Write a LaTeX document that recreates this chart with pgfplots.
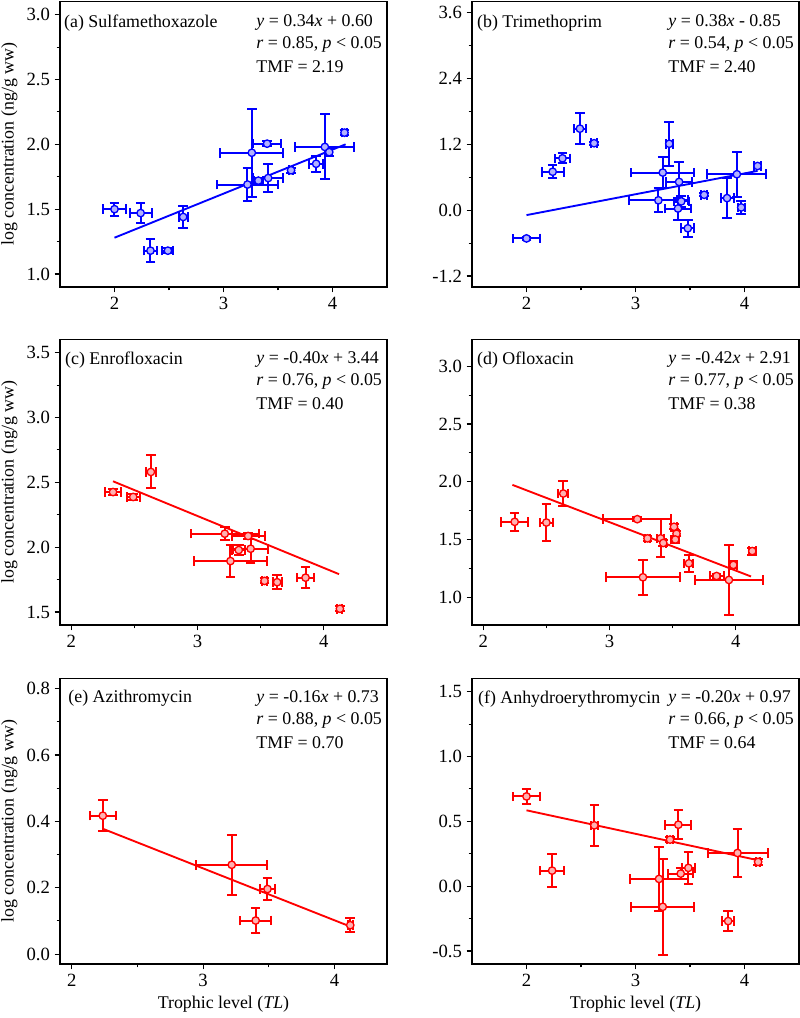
\documentclass[border=0pt]{standalone}
\usepackage{fontspec}
\setmainfont{Liberation Serif}
\usepackage{pgfplots}
\usepackage{pgfplotstable}
\pgfplotsset{compat=1.18}

\pgfplotstableread{
x y ex ey
2.00 1.50 0.11 0.05
2.24 1.47 0.10 0.08
2.33 1.18 0.06 0.09
2.49 1.18 0.05 0.02
2.63 1.44 0.04 0.085
3.22 1.69 0.28 0.13
3.26 1.935 0.29 0.34
3.32 1.72 0.04 0.02
3.40 2.005 0.13 0.02
3.41 1.74 0.14 0.11
3.62 1.80 0.02 0.02
3.85 1.85 0.065 0.06
3.93 1.98 0.27 0.25
3.97 1.94 0.03 0.03
4.11 2.09 0.02 0.02
}\dataA

\pgfplotstableread{
x y ex ey
2.00 -0.515 0.12 0.02
2.24 0.70 0.10 0.12
2.33 0.945 0.065 0.09
2.49 1.485 0.055 0.28
2.62 1.22 0.03 0.03
3.21 0.18 0.27 0.22
3.25 0.685 0.29 0.29
3.31 1.21 0.03 0.40
3.39 0.03 0.12 0.20
3.40 0.515 0.12 0.37
3.42 0.16 0.07 0.10
3.48 -0.33 0.06 0.15
3.63 0.28 0.03 0.03
3.84 0.22 0.06 0.36
3.93 0.655 0.27 0.41
3.97 0.05 0.03 0.12
4.12 0.805 0.03 0.03
}\dataB

\pgfplotstableread{
x y ex ey
2.33 2.425 0.065 0.02
2.49 2.387 0.05 0.02
2.63 2.58 0.04 0.127
3.215 2.104 0.27 0.05
3.26 1.893 0.29 0.12
3.326 1.978 0.05 0.04
3.40 2.086 0.13 0.02
3.42 1.988 0.14 0.11
3.53 1.74 0.02 0.02
3.63 1.73 0.035 0.055
3.855 1.765 0.065 0.08
4.127 1.525 0.02 0.02
}\dataC

\pgfplotstableread{
x y ex ey
2.248 1.653 0.105 0.078
2.499 1.647 0.05 0.16
2.633 1.898 0.04 0.11
3.219 1.676 0.27 0.02
3.264 1.173 0.29 0.15
3.30 1.51 0.02 0.02
3.404 1.51 0.03 0.165
3.425 1.47 0.02 0.03
3.51 1.61 0.02 0.02
3.53 1.55 0.02 0.02
3.52 1.50 0.03 0.03
3.628 1.294 0.035 0.075
3.847 1.184 0.055 0.02
3.945 1.15 0.27 0.30
3.98 1.28 0.03 0.03
4.13 1.40 0.03 0.03
}\dataD

\pgfplotstableread{
x y ex ey
2.236 0.417 0.10 0.047
3.218 0.269 0.27 0.09
3.49 0.196 0.06 0.032
3.40 0.101 0.12 0.037
4.12 0.087 0.02 0.021
}\dataE

\pgfplotstableread{
x y ex ey
2.00 0.692 0.12 0.06
2.235 0.12 0.11 0.128
2.622 0.469 0.03 0.16
3.216 0.056 0.27 0.245
3.25 -0.159 0.29 0.37
3.317 0.359 0.03 0.02
3.393 0.474 0.12 0.11
3.415 0.097 0.115 0.04
3.485 0.141 0.06 0.125
3.85 -0.269 0.057 0.08
3.936 0.256 0.275 0.183
4.125 0.187 0.02 0.02
}\dataF

\newcommand{\fs}{\fontsize{13.4}{15.5}\selectfont}
\newcommand{\ft}{\fontsize{14}{16}\selectfont}

\tikzset{ttl/.style={anchor=west, font=\fs, inner sep=0pt}}

\pgfplotsset{
  panel/.style={
    scale only axis, width=245.25pt, height=214pt,
    anchor=south west,
    axis line style={line width=0.8pt},
    tick style={line width=0.8pt, black},
    tick align=outside,
    xtick pos=left, ytick pos=left,
    major tick length=4pt, minor tick length=2.5pt,
    minor x tick num=1, minor y tick num=1,
    xtick={2,3,4},
    ticklabel style={font=\ft},
    label style={font=\fs},
    /pgf/number format/assume math mode=true,
    yticklabel style={/pgf/number format/fixed, /pgf/number format/fixed zerofill, /pgf/number format/precision=1},
  },
  ptsB/.style={only marks, mark=*, mark size=2.8pt, color=blue,
    mark options={fill=blue!30!white, draw=blue, line width=1pt},
    error bars/.cd, x dir=both, x explicit, y dir=both, y explicit,
    error bar style={line width=1.5pt, blue},
    error mark options={rotate=90, mark size=3.6pt, line width=1.5pt, blue}},
  ptsR/.style={only marks, mark=*, mark size=2.8pt, color=red,
    mark options={fill=red!30!white, draw=red, line width=1pt},
    error bars/.cd, x dir=both, x explicit, y dir=both, y explicit,
    error bar style={line width=1.5pt, red},
    error mark options={rotate=90, mark size=3.6pt, line width=1.5pt, red}},
}

\begin{document}
\begin{tikzpicture}
\path[use as bounding box] (0pt,0pt) rectangle (600pt,763.5pt);

% (a)
\begin{axis}[panel, at={(45pt,548.25pt)}, xmin=1.5, xmax=4.5, ymin=0.9, ymax=3.1,
  ytick={1.0,1.5,2.0,2.5,3.0}, ylabel={log concentration (ng/g ww)}]
\addplot[blue, line width=1.4pt] coordinates {(2.0,1.28) (4.12,2.00)};
\addplot[ptsB] table[x=x, y=y, x error=ex, y error=ey] {\dataA};
\node[ttl] at (rel axis cs:0.012,0.926) {(a) Sulfamethoxazole};
\node[ttl] at (rel axis cs:0.60,0.926) {\textit{y} = 0.34\textit{x} + 0.60};
\node[ttl] at (rel axis cs:0.60,0.849) {\textit{r} = 0.85, \textit{p} < 0.05};
\node[ttl] at (rel axis cs:0.60,0.772) {TMF = 2.19};
\end{axis}

% (b)
\begin{axis}[panel, at={(354pt,548.25pt)}, xmin=1.5, xmax=4.5, ymin=-1.4, ymax=3.8,
  ytick={-1.2,0,1.2,2.4,3.6}]
\addplot[blue, line width=1.4pt] coordinates {(2.0,-0.09) (4.12,0.716)};
\addplot[ptsB] table[x=x, y=y, x error=ex, y error=ey] {\dataB};
\node[ttl] at (rel axis cs:0.015,0.926) {(b) Trimethoprim};
\node[ttl] at (rel axis cs:0.60,0.926) {\textit{y} = 0.38\textit{x} - 0.85};
\node[ttl] at (rel axis cs:0.60,0.849) {\textit{r} = 0.54, \textit{p} < 0.05};
\node[ttl] at (rel axis cs:0.60,0.772) {TMF = 2.40};
\end{axis}

% (c)
\begin{axis}[panel, at={(45pt,294.75pt)}, xmin=1.91, xmax=4.5, ymin=1.4, ymax=3.6,
  ytick={1.5,2.0,2.5,3.0,3.5}, ylabel={log concentration (ng/g ww)}]
\addplot[red, line width=1.4pt] coordinates {(2.33,2.508) (4.12,1.792)};
\addplot[ptsR] table[x=x, y=y, x error=ex, y error=ey] {\dataC};
\node[ttl] at (rel axis cs:0.015,0.93) {(c) Enrofloxacin};
\node[ttl] at (rel axis cs:0.60,0.93) {\textit{y} = -0.40\textit{x} + 3.44};
\node[ttl] at (rel axis cs:0.60,0.853) {\textit{r} = 0.76, \textit{p} < 0.05};
\node[ttl] at (rel axis cs:0.60,0.776) {TMF = 0.40};
\end{axis}

% (d)
\begin{axis}[panel, at={(354pt,294.75pt)}, xmin=1.91, xmax=4.5, ymin=0.76, ymax=3.23,
  ytick={1.0,1.5,2.0,2.5,3.0}]
\addplot[red, line width=1.4pt] coordinates {(2.23,1.973) (4.12,1.18)};
\addplot[ptsR] table[x=x, y=y, x error=ex, y error=ey] {\dataD};
\node[ttl] at (rel axis cs:0.015,0.93) {(d) Ofloxacin};
\node[ttl] at (rel axis cs:0.60,0.93) {\textit{y} = -0.42\textit{x} + 2.91};
\node[ttl] at (rel axis cs:0.60,0.853) {\textit{r} = 0.77, \textit{p} < 0.05};
\node[ttl] at (rel axis cs:0.60,0.776) {TMF = 0.38};
\end{axis}

% (e)
\begin{axis}[panel, at={(45pt,40.5pt)}, xmin=1.91, xmax=4.4, ymin=-0.03, ymax=0.83,
  ytick={0,0.2,0.4,0.6,0.8}, ylabel={log concentration (ng/g ww)},
  xlabel={Trophic level (\textit{TL})}]
\addplot[red, line width=1.4pt] coordinates {(2.24,0.377) (4.12,0.083)};
\addplot[ptsR] table[x=x, y=y, x error=ex, y error=ey] {\dataE};
\node[ttl] at (rel axis cs:0.025,0.93) {(e) Azithromycin};
\node[ttl] at (rel axis cs:0.60,0.93) {\textit{y} = -0.16\textit{x} + 0.73};
\node[ttl] at (rel axis cs:0.60,0.853) {\textit{r} = 0.88, \textit{p} < 0.05};
\node[ttl] at (rel axis cs:0.60,0.776) {TMF = 0.70};
\end{axis}

% (f)
\begin{axis}[panel, at={(354pt,40.5pt)}, xmin=1.5, xmax=4.5, ymin=-0.6, ymax=1.6,
  ytick={-0.5,0,0.5,1.0,1.5}, xlabel={Trophic level (\textit{TL})}]
\addplot[red, line width=1.4pt] coordinates {(2.0,0.585) (4.125,0.20)};
\addplot[ptsR] table[x=x, y=y, x error=ex, y error=ey] {\dataF};
\node[ttl] at (rel axis cs:0.018,0.93) {(f) Anhydroerythromycin};
\node[ttl] at (rel axis cs:0.60,0.93) {\textit{y} = -0.20\textit{x} + 0.97};
\node[ttl] at (rel axis cs:0.60,0.853) {\textit{r} = 0.66, \textit{p} < 0.05};
\node[ttl] at (rel axis cs:0.60,0.776) {TMF = 0.64};
\end{axis}
\end{tikzpicture}
\end{document}
